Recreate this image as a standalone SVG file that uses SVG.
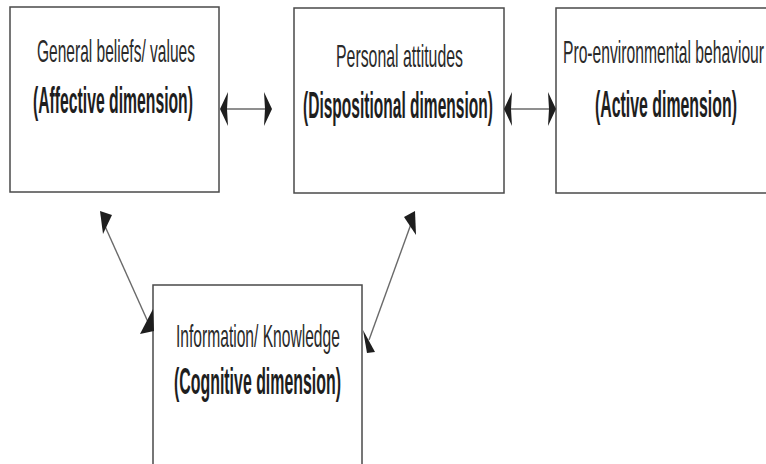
<svg xmlns="http://www.w3.org/2000/svg" width="766" height="464" viewBox="0 0 766 464">
<defs>
<style>
.box{fill:#fff;stroke:#4a4a4a;stroke-width:1.5}
.t1{font-family:"Liberation Sans",Arial,sans-serif;font-size:32px;fill:#2a2a2a}
.t2{font-family:"Liberation Sans",Arial,sans-serif;font-size:37px;font-weight:bold;fill:#1e1e1e}
.ln{stroke:#6a6a6a;stroke-width:1.4;fill:none}
.hd{fill:#1e1e1e;stroke:none}
</style>
</defs>
<rect width="766" height="464" fill="#fff"/>
<g id="node-beliefs">
<rect class="box" x="10" y="7" width="209" height="185"/>
<text class="t1" transform="translate(37,62) scale(0.4854,1)">General beliefs/ values</text>
<text class="t2" transform="translate(33,113) scale(0.4253,1)">(Affective dimension)</text>
</g>
<g id="node-attitudes">
<rect class="box" x="294" y="8" width="210" height="185"/>
<text class="t1" transform="translate(336,67) scale(0.4959,1)">Personal attitudes</text>
<text class="t2" transform="translate(303,118) scale(0.4201,1)">(Dispositional dimension)</text>
</g>
<g id="node-behaviour">
<rect class="box" x="556" y="8" width="220" height="185"/>
<text class="t1" transform="translate(563,63) scale(0.4893,1)">Pro-environmental behaviour</text>
<text class="t2" transform="translate(595,117) scale(0.4290,1)">(Active dimension)</text>
</g>
<g id="node-knowledge">
<rect class="box" x="153" y="285" width="209" height="190"/>
<text class="t1" transform="translate(176,347) scale(0.4878,1)">Information/ Knowledge</text>
<text class="t2" transform="translate(174,394) scale(0.4298,1)">(Cognitive dimension)</text>
</g>
<g id="connectors">
<line class="ln" x1="225" y1="109" x2="266" y2="109"/>
<polygon class="hd" points="220,109 228,92 227,109 228,126"/>
<polygon class="hd" points="272,109 264,92 265,109 264,126"/>
<line class="ln" x1="509" y1="109" x2="550" y2="109"/>
<polygon class="hd" points="504,109 512,92 511,109 512,126"/>
<polygon class="hd" points="556,109 548,92 549,109 548,126"/>
<line class="ln" x1="104" y1="224" x2="148" y2="322"/>
<polygon class="hd" points="100,211 112,215 103,234"/>
<polygon class="hd" points="140,334 153,309 154,331"/>
<line class="ln" x1="411" y1="224" x2="369" y2="340"/>
<polygon class="hd" points="415,211 404,217 416,235"/>
<polygon class="hd" points="363,330 375,352 367,353"/>
</g>
</svg>
